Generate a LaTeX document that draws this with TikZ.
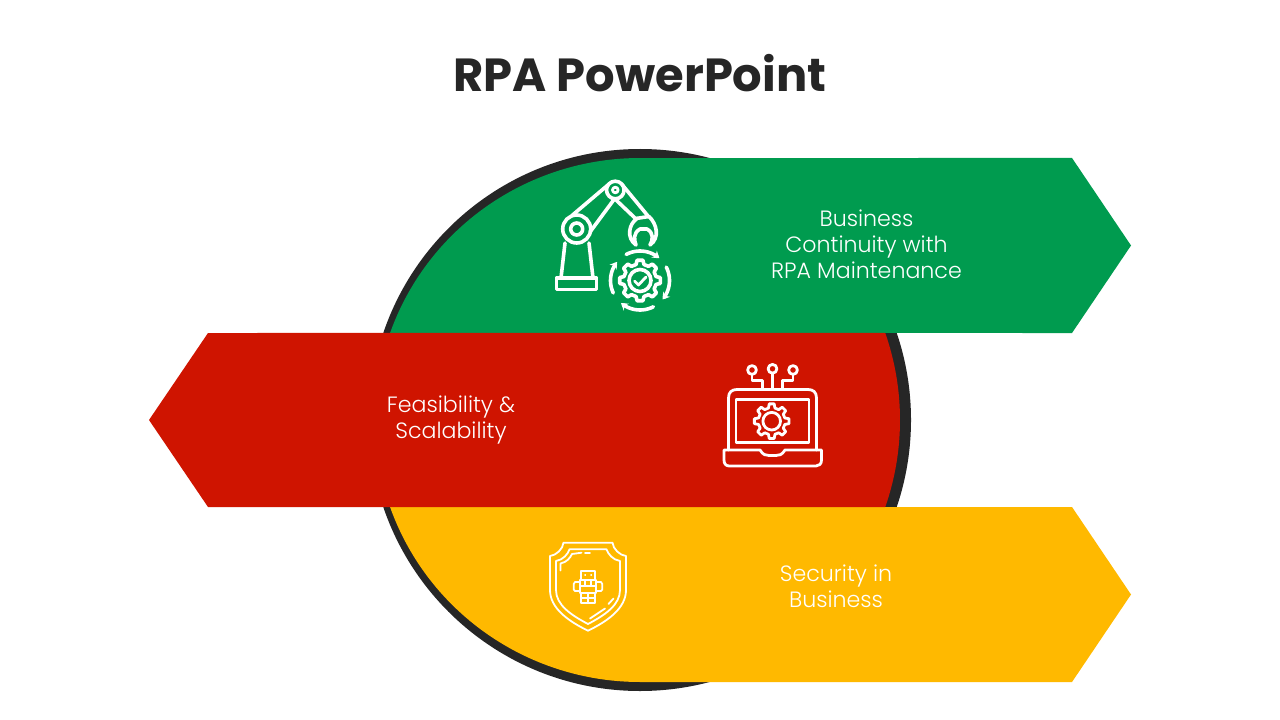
\documentclass[tikz,border=0pt]{standalone}
\usepackage{fontspec}
\setmainfont{Poppins}[UprightFont=* Light,BoldFont=* Bold]
\usetikzlibrary{arrows.meta}
\definecolor{ringdark}{HTML}{262626}
\definecolor{bandgreen}{HTML}{009B4F}
\definecolor{bandred}{HTML}{CF1400}
\definecolor{bandyellow}{HTML}{FFB900}
\tikzset{
  iconline/.style={draw=white,line width=2.7pt,line cap=round,line join=round},
  iconmid/.style={draw=white,line width=2.1pt,line cap=round,line join=round},
  iconthin/.style={draw=white,line width=1.35pt,line cap=round,line join=round},
  bandtext/.style={text=white,align=center,font=\fontsize{16.6}{19.5}\selectfont,inner sep=0pt},
}
% #1 style, #2 cx, #3 cy, #4 root radius, #5 tip radius, #6 teeth
\newcommand{\gearicon}[6]{%
  \draw[#1] ({#2+#4*cos(-180/#6*0.62)},{#3+#4*sin(-180/#6*0.62)})
    \foreach \gi in {1,...,#6}{
      -- ({#2+#5*cos((\gi-1)*360/#6-180/#6*0.36)},{#3+#5*sin((\gi-1)*360/#6-180/#6*0.36)})
      -- ({#2+#5*cos((\gi-1)*360/#6+180/#6*0.36)},{#3+#5*sin((\gi-1)*360/#6+180/#6*0.36)})
      -- ({#2+#4*cos((\gi-1)*360/#6+180/#6*0.62)},{#3+#4*sin((\gi-1)*360/#6+180/#6*0.62)})
      -- ({#2+#4*cos(\gi*360/#6-180/#6*0.62)},{#3+#4*sin(\gi*360/#6-180/#6*0.62)})
    } -- cycle;%
}
\begin{document}
\begin{tikzpicture}[x=0.75pt,y=-0.75pt]
\useasboundingbox (0,0) rectangle (1280,720);
% ring
\fill[ringdark] (640,420) circle[radius=271];
% green band
\fill[bandgreen] plot[domain=199.4:270,samples=70] ({640+265*cos(\x)},{420+262*sin(\x)})
  -- (1072,158) -- (1131,245.5) -- (1072,333) -- cycle;
% yellow band
\fill[bandyellow] plot[domain=160.6:90,samples=70] ({640+265*cos(\x)},{420+262*sin(\x)})
  -- (1072,682) -- (1131,594.5) -- (1072,507) -- cycle;
% red band
\fill[bandred] plot[domain=-19.4:19.4,samples=50] ({640+260*cos(\x)},{420+262*sin(\x)})
  -- (208,507) -- (149,420) -- (208,333) -- cycle;
% texts
\node[text=ringdark,font=\fontsize{34.8}{40}\selectfont\bfseries,inner sep=0pt] (title) at (640,73.5) {RPA PowerPoint};
\node[bandtext] (greentext) at (866.5,244.2) {Business\\Continuity with\\RPA Maintenance};
\node[bandtext] (redtext) at (451,420.5) {Feasibility \&\\Scalability};
\node[bandtext] (yellowtext) at (836,586.2) {Security in\\Business};
% robot arm icon
\draw[iconline] (576.7,229) circle[radius=14];
\draw[iconline] (576.7,229) circle[radius=6];
\draw[iconline] (615.3,190) circle[radius=8.8];
\draw[iconmid] (615.3,190) circle[radius=2.8];
\draw[iconline] (556.5,278) rectangle (596.5,289.5);
\draw[iconline] (565,243) -- (561,278);
\draw[iconline] (589,243) -- (593,278);
\draw[iconline] (572,215.5) -- (608.5,184.5);
\draw[iconline] (590,232) -- (614,199.5);
\draw[iconline] (622,184.5) -- (648,216);
\draw[iconline] (615,199) -- (636,219);
\draw[iconline] (636,218.5) -- (649,216.5);
\draw[iconline] (636.5,219) .. controls (629,224) and (626,238) .. (636,245)
  .. controls (634,240) and (633,233) .. (640,229) -- (647,229)
  .. controls (654,233) and (653,240) .. (650,245)
  .. controls (660,238) and (657,224) .. (649,216.5);
% gear with arrows
\gearicon{iconline}{640}{280.5}{16.5}{20.5}{8}
\draw[iconline] (640,280.5) circle[radius=11];
\draw[iconmid] (634.5,281) -- (638.5,285) -- (646,277);
\foreach \a/\b in {242/311,-27/40,63/130,155/219}{
  \draw[iconline,-{Stealth[length=5pt,width=6.5pt]}] plot[domain=\a:\b,samples=14] ({640+29.5*cos(\x)},{280.5+29.5*sin(\x)});
}
% laptop icon
\draw[iconmid] (728.5,450) -- (728.5,398) .. controls (728.5,392) and (732,389.5) .. (737,389.5) -- (808,389.5) .. controls (813,389.5) and (816.5,392) .. (816.5,398) -- (816.5,450);
\draw[iconmid] (736,399.5) rectangle (809,442.5);
\draw[iconmid] (724,450) -- (760,450) .. controls (763,455) and (766,455.5) .. (769,455.5) -- (776,455.5) .. controls (779,455.5) and (782,455) .. (785,450) -- (821.5,450) -- (821.5,460) .. controls (821.5,464) and (819,466) .. (816,466) -- (729.5,466) .. controls (726,466) and (724,464) .. (724,460) -- cycle;
\gearicon{iconmid}{771.7}{421.2}{13.5}{17.5}{8}
\draw[iconmid] (771.7,421.2) circle[radius=8.8];
\draw[iconmid] (752,370) circle[radius=4.4];
\draw[iconmid] (772.5,368.8) circle[radius=4.4];
\draw[iconmid] (793,370) circle[radius=4.4];
\draw[iconmid] (772.5,373.5) -- (772.5,389.5);
\draw[iconmid] (752,374.5) -- (752,380.5) -- (762.5,380.5) -- (762.5,389.5);
\draw[iconmid] (793,374.5) -- (793,380.5) -- (782.5,380.5) -- (782.5,389.5);
% shield icon
\draw[iconthin] (563.5,542.7) -- (612.5,542.7) .. controls (613,549) and (620,555.5) .. (626,556)
  -- (626,590) .. controls (626,608) and (608,621) .. (588,630.7)
  .. controls (568,621) and (550,608) .. (550,590) -- (550,556) .. controls (556,555.5) and (563,549) .. (563.5,542.7) -- cycle;
\draw[iconthin] (569.5,549.3) -- (606.5,549.3) .. controls (608,554) and (613,560) .. (620,561)
  -- (620,590) .. controls (620,605) and (605,615) .. (588,624)
  .. controls (571,615) and (556,605) .. (556,590) -- (556,561) .. controls (563,560) and (568,554) .. (569.5,549.3) -- cycle;
\draw[iconthin] (560.5,570.5) -- (560.5,563.5) .. controls (567,562) and (570,558) .. (572,554) -- (581.5,552.7);
\draw[iconthin] (585,553.3) -- (590,553.3);
\draw[iconthin] (590,618.5) -- (605,608.5);
\draw[iconthin] (608.5,604) -- (613.5,598.5);
\draw[iconthin] (581,570.7) rectangle (595,580);
\draw[iconthin] (585,575) -- (585.3,575);
\draw[iconthin] (591,575) -- (591.3,575);
\draw[iconthin] (580,580) rectangle (596,593.3);
\draw[iconthin] (585.3,580) -- (585.3,586);
\draw[iconthin] (590.7,580) -- (590.7,586);
\draw[iconthin] (580,586) -- (596,586);
\draw[iconthin] (580,582) -- (575,582) -- (573.7,584) -- (573.7,589.5) -- (575,591) -- (580,591);
\draw[iconthin] (596,582) -- (601,582) -- (602.3,584) -- (602.3,589.5) -- (601,591) -- (596,591);
\draw[iconthin] (581,593.3) rectangle (595,603.3);
\draw[iconthin] (588,593.3) -- (588,603.3);
\draw[iconthin] (581,598.3) -- (595,598.3);
\end{tikzpicture}
\end{document}
